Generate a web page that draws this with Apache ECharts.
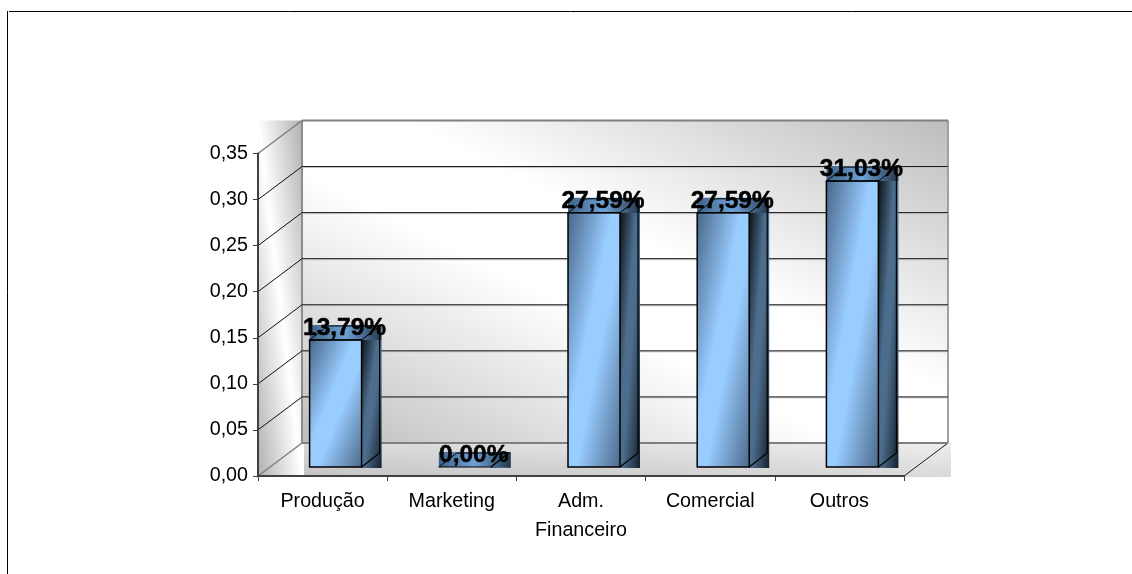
<!DOCTYPE html>
<html>
<head>
<meta charset="utf-8">
<style>html,body{margin:0;padding:0;background:#fff}#chart{width:1132px;height:574px}</style>
<script src="https://cdn.jsdelivr.net/npm/echarts@6/dist/echarts.min.js"></script>
</head>
<body>
<div id="chart"></div>
<script>
// Share of responses by department, drawn as pseudo-3D columns.
const categories = ['Produção', 'Marketing', 'Adm.\nFinanceiro', 'Comercial', 'Outros'];
const shares = [0.1379, 0, 0.2759, 0.2759, 0.3103];
const gridTicks = [0, 0.05, 0.10, 0.15, 0.20, 0.25, 0.30, 0.35];

const FONT = '"Liberation Sans", Arial, sans-serif';
const WALL_DX = 44, WALL_DY = 33;      // depth of the chart box
const BAR_DX = 18, BAR_DY = 14;        // depth of each column
const BAR_W = 52, BAR_SHIFT = 13, BAR_LIFT = 9;

// Gradient whose colour bands run parallel to one diagonal of the box.
function diagGradient(x, y, w, h, stops, falling) {
  const n = Math.hypot(w, h), p = w * h / n;
  const ux = h / n, uy = (falling ? -w : w) / n;
  const cx = x + w / 2, cy = y + h / 2;
  return new echarts.graphic.LinearGradient(
    cx + ux * p, cy + uy * p, cx - ux * p, cy - uy * p,
    stops.map((c, i) => ({ offset: Array.isArray(c) ? c[0] : i / (stops.length - 1), color: Array.isArray(c) ? c[1] : c })),
    true
  );
}
const rect = (x, y, w, h, fill) => ({ type: 'rect', shape: { x, y, width: w, height: h }, style: { fill } });
const line = (x1, y1, x2, y2, stroke, lineWidth) => ({
  type: 'line', shape: { x1, y1, x2, y2 }, style: { stroke, lineWidth, fill: null }
});

function renderWalls(params) {
  const g = params.coordSys;
  const wallGrey = [[0, '#bdbdbd'], [0.42, '#ffffff'], [0.58, '#ffffff'], [1, '#bdbdbd']];
  const sideGrey = [[0, '#b0b0b0'], [0.5, '#ffffff'], [1, '#b0b0b0']];
  const backX = g.x + WALL_DX, backY = g.y - WALL_DY;
  const floorY = g.y + g.height - WALL_DY, floorB = g.y + g.height + 1;
  return {
    type: 'group',
    children: [
      rect(g.x, backY, WALL_DX, g.height + WALL_DY, diagGradient(g.x, backY, WALL_DX, g.height + WALL_DY, sideGrey, true)),
      rect(backX, backY, g.width, g.height, diagGradient(backX, backY, g.width, g.height, wallGrey, true)),
      rect(backX + 2, floorY, g.width + 1, floorB - floorY,
        diagGradient(backX + 2, floorY, g.width + 1, floorB - floorY, ['#eeeeee', '#c4c4c4'], true)),
      line(backX, backY, backX, floorY, '#8c8c8c', 2),
      line(backX + g.width, backY, backX + g.width, floorY, '#a0a0a0', 2),
      line(g.x + g.width, floorB - 1, backX + g.width, floorY, '#1a1a1a', 1)
    ]
  };
}

function renderGridLine(params, api) {
  const g = params.coordSys;
  const y = api.coord([0, api.value(1)])[1];
  const v = api.value(1);
  const edge = v === 0 || v === 0.35;
  const by = y - WALL_DY, bx = g.x + WALL_DX;
  if (edge) {
    return { type: 'group', children: [
      line(bx, by, bx + g.width, by, '#808080', 2),
      line(g.x, y, bx, by, '#808080', 1.5)
    ] };
  }
  return { type: 'group', children: [
    line(bx, by + 1, bx + g.width, by + 1, '#cccccc', 1),
    line(bx, by, bx + g.width, by, '#101010', 1),
    line(g.x, y, bx, by, '#101010', 1)
  ] };
}

function renderColumn(params, api) {
  const i = api.value(0), v = api.value(1);
  const x = api.coord([i, 0])[0] + BAR_SHIFT - BAR_W / 2;
  const top = api.coord([i, v])[1] - BAR_LIFT;
  const bottom = api.coord([i, 0])[1] - BAR_LIFT;
  const h = bottom - top;
  const r = x + BAR_W;
  const text = (v * 100).toFixed(2).replace('.', ',') + '%';
  const children = [];
  if (h > 0) {
    children.push(rect(x, top, BAR_W, h, diagGradient(x, top, BAR_W, h,
      ['#4c6b8c', '#99ccff', '#99ccff', '#47668a'].map((c, k) => [[0, 0.42, 0.58, 1][k], c]), false)));
  }
  children.push(
    rect(r, top, BAR_DX + 2, h + 1, diagGradient(r, top, BAR_DX + 2, h + 1,
      [[0, '#14212e'], [0.45, '#4d6d8c'], [0.6, '#4d6d8c'], [1, '#0b1219']], false)),
    rect(x, top - BAR_DY - 1, BAR_W + BAR_DX + 2, BAR_DY + 1,
      new echarts.graphic.LinearGradient(0, 0, 1, 0,
        [{ offset: 0, color: '#3f6287' }, { offset: 0.5, color: '#6ea1d6' }, { offset: 1, color: '#24374b' }])),
    { type: 'polygon', shape: { points: [[x, top], [r, top], [r + BAR_DX, top - BAR_DY], [x + BAR_DX, top - BAR_DY]] },
      style: { fill: null, stroke: '#000', lineWidth: 1 } },
    { type: 'polyline', shape: { points: [[r, bottom], [r + BAR_DX, bottom - BAR_DY], [r + BAR_DX, top - BAR_DY]] },
      style: { fill: null, stroke: '#000', lineWidth: 1.2 } }
  );
  if (h > 0) {
    children.push({ type: 'polygon', shape: { points: [[x, top], [r, top], [r, bottom], [x, bottom]] },
      style: { fill: null, stroke: '#000', lineWidth: 1.5 } });
  }
  children.push({
    type: 'text',
    style: { text, x: x + BAR_W / 2 + BAR_DX / 2, y: top - 12, align: 'center', verticalAlign: 'middle',
      font: 'bold 24.5px ' + FONT, fill: '#000', stroke: '#000', lineWidth: 0.5 }
  });
  return { type: 'group', children };
}

const chart = echarts.init(document.getElementById('chart'), null, { renderer: 'canvas' });
chart.setOption({
  animation: false,
  backgroundColor: '#fff',
  grid: { left: 258, top: 153.5, width: 646, height: 322.5, containLabel: false },
  xAxis: {
    type: 'category', data: categories, z: 5,
    axisLine: { lineStyle: { color: '#404040', width: 2 } },
    axisTick: { show: true, length: 5, alignWithLabel: false, lineStyle: { color: '#404040', width: 1 } },
    axisLabel: { color: '#000', fontFamily: FONT, fontSize: 19.7, lineHeight: 29, margin: 11, interval: 0 }
  },
  yAxis: {
    type: 'value', min: 0, max: 0.35, interval: 0.05, z: 5,
    splitLine: { show: false },
    axisLine: { show: true, lineStyle: { color: '#404040', width: 2 } },
    axisTick: { show: true, length: 5, lineStyle: { color: '#404040', width: 1 } },
    axisLabel: { color: '#000', fontFamily: FONT, fontSize: 19.7, margin: 10,
      formatter: v => v.toFixed(2).replace('.', ',') }
  },
  graphic: [
    { type: 'line', silent: true, shape: { x1: 9, y1: 11.5, x2: 1132, y2: 11.5 }, style: { stroke: '#000', lineWidth: 1 } },
    { type: 'line', silent: true, shape: { x1: 7.5, y1: 11, x2: 7.5, y2: 574 }, style: { stroke: '#000', lineWidth: 1 } }
  ],
  series: [
    { type: 'custom', silent: true, z: 1, clip: false, renderItem: renderWalls, data: [[0, 0]] },
    { type: 'custom', silent: true, z: 2, clip: false, renderItem: renderGridLine,
      data: gridTicks.map(t => [0, t]) },
    { type: 'custom', silent: true, z: 6, clip: false, renderItem: renderColumn,
      data: shares.map((v, i) => [i, v]) }
  ]
});
</script>
</body>
</html>
